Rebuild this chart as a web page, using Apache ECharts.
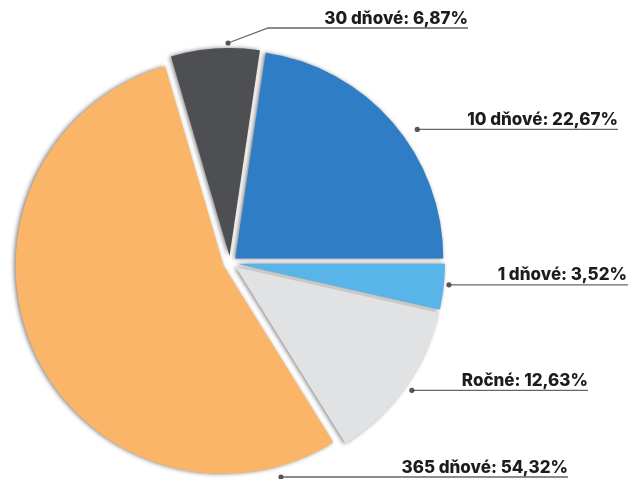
<!DOCTYPE html>
<html>
<head>
<meta charset="utf-8">
<script src="https://cdn.jsdelivr.net/npm/echarts@6/dist/echarts.min.js"></script>
<style>
    html, body { margin: 0; padding: 0; background: #fff; }
    #chart { width: 628px; height: 479px; }
</style>
</head>
<body>
<div id="chart"></div>
<script>
// data, in the order the slices go clockwise
var names = ["10 dňové", "1 dňové", "Ročné", "365 dňové", "30 dňové"];
var values = [22.67, 3.52, 12.63, 54.32, 6.87];
var colors = ["#2f7dc4", "#58b4e9", "#e1e2e4", "#fab568", "#4d4f52"];

// label lines: start point on the rim (angle deg from 3 o'clock, distance), end of the text, elbow
var labelAngles = [35.5, -5.7, -35, -76.6, 90.5];
var labelDist = [230, 220, 222, 220, 220];
var labelEnds = [618, 627, 588, 568, 468];
var labelElbow = [[0, 0], [0, 0], [0, 0], [0, 0], [40, -15]];

var cx = 230, cy = 263, R = 208;

function anchor(i) {
    var a = labelAngles[i] * Math.PI / 180;
    return [cx + labelDist[i] * Math.cos(a), cy - labelDist[i] * Math.sin(a)];
}

function fmt(v) {
    return v.toFixed(2).replace(".", ",") + "%";
}

var chart = echarts.init(document.getElementById("chart"));

var data = [];
for (var i = 0; i < names.length; i++) {
    data.push({
        name: names[i],
        value: values[i],
        selected: true,
        itemStyle: { color: colors[i] }
    });
}

// labels: a dot on the rim, a line running right, text sitting on the line
var labels = [];
for (var j = 0; j < names.length; j++) {
    var p0 = anchor(j);
    var p1 = [p0[0] + labelElbow[j][0], p0[1] + labelElbow[j][1]];
    var end = labelEnds[j];
    labels.push({
        type: "polyline",
        shape: { points: [p0, p1, [j == 1 ? 628 : end, p1[1]]] },
        style: { stroke: "#666", lineWidth: 1.3, fill: null },
        z: 10
    });
    labels.push({
        type: "circle",
        shape: { cx: p0[0], cy: p0[1], r: 2.6 },
        style: { fill: "#555" },
        z: 11
    });
    labels.push({
        type: "text",
        x: end,
        y: p1[1] - 1,
        style: {
            text: names[j] + ": " + fmt(values[j]),
            font: "800 17px Inter",
            fill: "#1e1b1c",
            align: "right",
            verticalAlign: "bottom"
        },
        z: 11
    });
}

chart.setOption({
    animation: false,
    graphic: labels,
    series: [{
        type: "pie",
        center: [cx, cy],
        radius: R,
        startAngle: 81.6,
        clockwise: true,
        selectedMode: "multiple",
        selectedOffset: 7,
        emphasis: { disabled: true },
        itemStyle: {
            shadowBlur: 4,
            shadowColor: "rgba(0, 0, 0, 0.5)",
            shadowOffsetX: -1.5
        },
        label: { show: false },
        labelLine: { show: false },
        data: data
    }]
});
</script>
</body>
</html>
